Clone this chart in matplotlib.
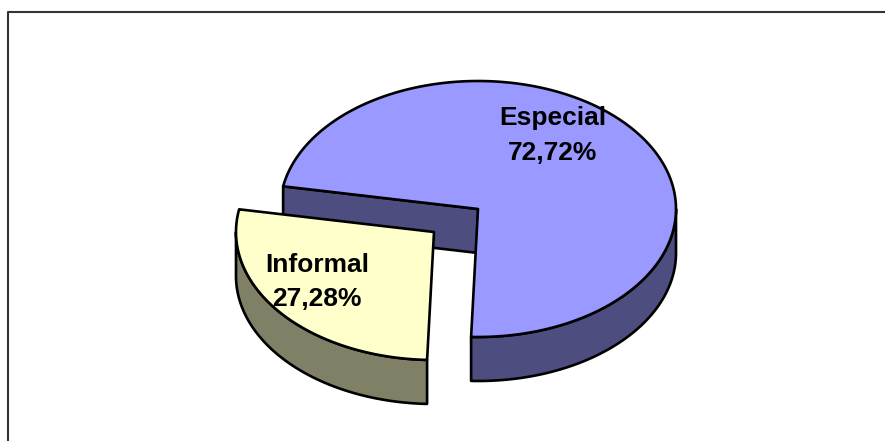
import numpy as np
import matplotlib
matplotlib.use('Agg')
import matplotlib.pyplot as plt
from matplotlib.patches import Polygon

categories = ['Especial', 'Informal']
shares = [72.72, 27.28]
top_colors = ['#9999FF', '#FFFFCC']
side_colors = ['#4D4D80', '#808066']

# picture is drawn in pixel units, y going down
CENTER = (478, 209)
OFFSET = (-44, 23)   # exploded slice
RX, RY = 198, 128
DEPTH = 44
END_ANGLE = -92      # Especial ends here, running clockwise from the start


def arc(cx, cy, a0, a1, drop=0):
    t = np.radians(np.linspace(a0, a1, 200))
    return np.column_stack([cx + RX * np.cos(t), cy - RY * np.sin(t) + drop])


def wall(cx, cy, a0, a1):
    return np.vstack([arc(cx, cy, a0, a1), arc(cx, cy, a1, a0, DEPTH)])


def add(ax, pts, color, z):
    ax.add_patch(Polygon(pts, closed=True, facecolor=color, edgecolor='black',
                         linewidth=1.9, joinstyle='round', zorder=z))


def pct(v):
    return f'{v:.2f}'.replace('.', ',') + '%'


sweep = [s / sum(shares) * 360 for s in shares]
start = END_ANGLE + sweep[0]

fig = plt.figure(figsize=(8.85, 4.41), dpi=100)
ax = fig.add_axes([0, 0, 1, 1])
ax.set_xlim(0, 885)
ax.set_ylim(441, 0)
ax.axis('off')

# chart frame, only left and top are inside the picture
ax.plot([8, 8, 885], [441, 12, 12], color='#333333', linewidth=1.5, zorder=1)

# Especial
cx, cy = CENTER
sx, sy = arc(cx, cy, start, start)[0]
add(ax, [(sx, sy), (cx, cy), (cx, cy + DEPTH), (sx, sy + DEPTH)], side_colors[0], 2)
add(ax, wall(cx, cy, END_ANGLE, 0), side_colors[0], 3)
add(ax, np.vstack([[(cx, cy)], arc(cx, cy, start, END_ANGLE)]), top_colors[0], 4)

# Informal
ix, iy = cx + OFFSET[0], cy + OFFSET[1]
add(ax, wall(ix, iy, -180, END_ANGLE), side_colors[1], 5)
add(ax, np.vstack([[(ix, iy)], arc(ix, iy, END_ANGLE, END_ANGLE - sweep[1])]), top_colors[1], 6)

font = dict(family='Liberation Sans', fontweight='bold', fontsize=19,
            color='black', ha='center', va='center', linespacing=1.0, zorder=7)
ax.text(553, 118.5, categories[0], **font)
ax.text(553, 153.5, pct(shares[0]), **font)
ax.text(317, 265.5, categories[1], **font)
ax.text(317, 299.5, pct(shares[1]), **font)

fig.savefig('out.png', dpi=100, facecolor='white')
